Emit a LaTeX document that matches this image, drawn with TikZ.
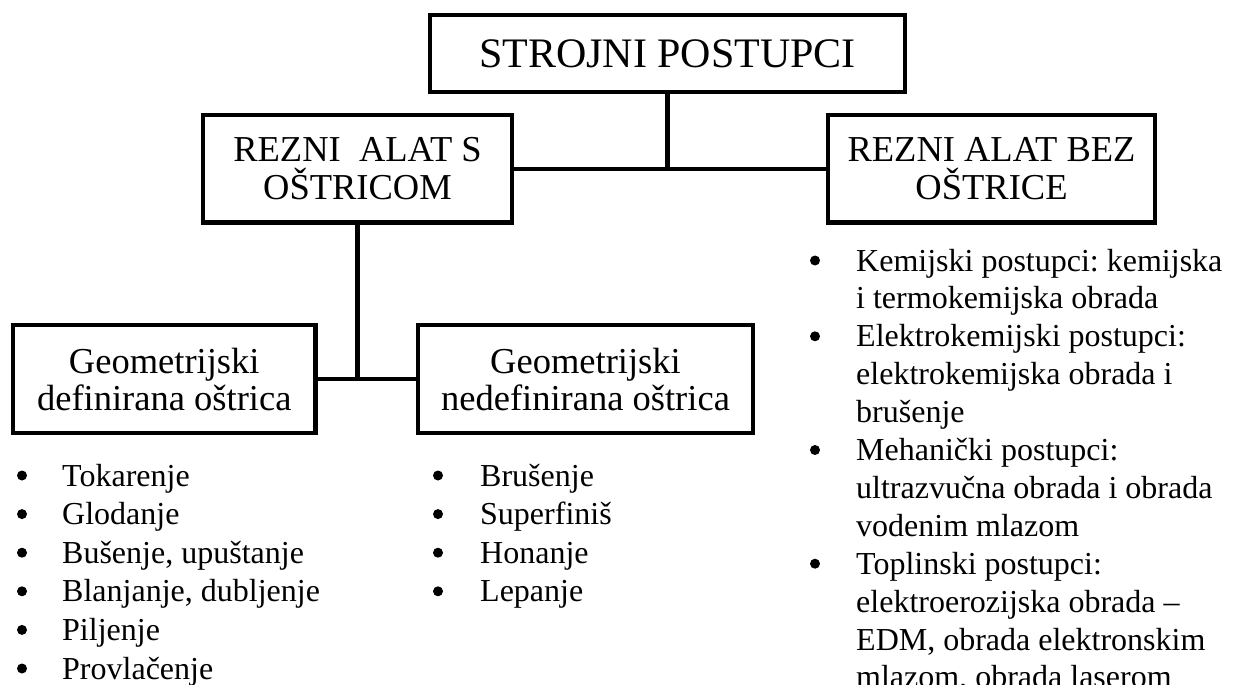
\documentclass[tikz,border=0pt]{standalone}
\usepackage{fontspec}
\setmainfont{Liberation Serif}
\frenchspacing
\begin{document}
\begin{tikzpicture}[x=1pt,y=-1pt,
  box/.style={draw, line width=4.5pt, inner sep=0pt, rectangle},
  conn/.style={line width=4.5pt},
  ttl/.style={font=\fontsize{42}{48}\selectfont, anchor=base, inner sep=0pt},
  btxt/.style={font=\fontsize{36.5}{38}\selectfont, anchor=base, inner sep=0pt},
  ltxt/.style={font=\fontsize{32}{38}\selectfont\frenchspacing, anchor=base west, inner sep=0pt},
  bul/.style={circle, fill=black, draw=none, minimum size=10pt, inner sep=0pt}]
\useasboundingbox (0,0) rectangle (1235,685);

% boxes
\node[box, minimum width=475pt, minimum height=77pt] (top) at (667.5,53.5) {};
\node[ttl] (topt) at (667.5,67) {STROJNI POSTUPCI};

\node[box, minimum width=309pt, minimum height=107.5pt] (rs) at (357.5,168.75) {};
\node[btxt] (rs1) at (357.5,161) {REZNI\ \ ALAT S};
\node[btxt] (rs2) at (357.5,199) {OŠTRICOM};

\node[box, minimum width=327pt, minimum height=107.5pt] (rb) at (991.5,168.75) {};
\node[btxt] (rb1) at (991.5,161) {REZNI ALAT BEZ};
\node[btxt] (rb2) at (991.5,199) {OŠTRICE};

\node[box, minimum width=302.5pt, minimum height=108pt] (gd) at (164.25,379) {};
\node[btxt] (gd1) at (164.25,373) {Geometrijski};
\node[btxt] (gd2) at (164.25,410) {definirana oštrica};

\node[box, minimum width=335pt, minimum height=108pt] (gn) at (585.5,379) {};
\node[btxt] (gn1) at (585.5,373) {Geometrijski};
\node[btxt] (gn2) at (585.5,410) {nedefinirana oštrica};

% connectors
\draw[conn] (rs.east) -- (rb.west);
\draw[conn] (top.south) -- (top.south |- rs.east) coordinate (tj);
\draw[conn] (gd.east) -- (gn.west);
\draw[conn] (rs.south) -- (rs.south |- gd.east) coordinate (lj);

% left list
\foreach \t [count=\i] in {Tokarenje, Glodanje, {Bušenje, upuštanje}, {Blanjanje, dubljenje}, Piljenje, Provlačenje}{
  \node[bul] (lb\i) at (22,{475.5+38.6*(\i-1)}) {};
  \node[ltxt] (lt\i) at (62,{486+38.6*(\i-1)}) {\t};
}

% middle list
\foreach \t [count=\i] in {Brušenje, Superfiniš, Honanje, Lepanje}{
  \node[bul] (mb\i) at (438,{475.5+38.6*(\i-1)}) {};
  \node[ltxt] (mt\i) at (480,{486+38.6*(\i-1)}) {\t};
}

% right list
\foreach \k in {0,2,5,8}{
  \node[bul] (rbul\k) at (815,{260.5+37.9*\k}) {};
}
\foreach \t [count=\i from 0] in {Kemijski postupci: kemijska, i termokemijska obrada, Elektrokemijski postupci:, elektrokemijska obrada i, brušenje, Mehanički postupci:, ultrazvučna obrada i obrada, vodenim mlazom, Toplinski postupci:, elektroerozijska obrada \textendash, {EDM, obrada elektronskim}, {mlazom, obrada laserom}}{
  \node[ltxt] (rt\i) at (856,{271+37.9*\i}) {\t};
}
\end{tikzpicture}
\end{document}
